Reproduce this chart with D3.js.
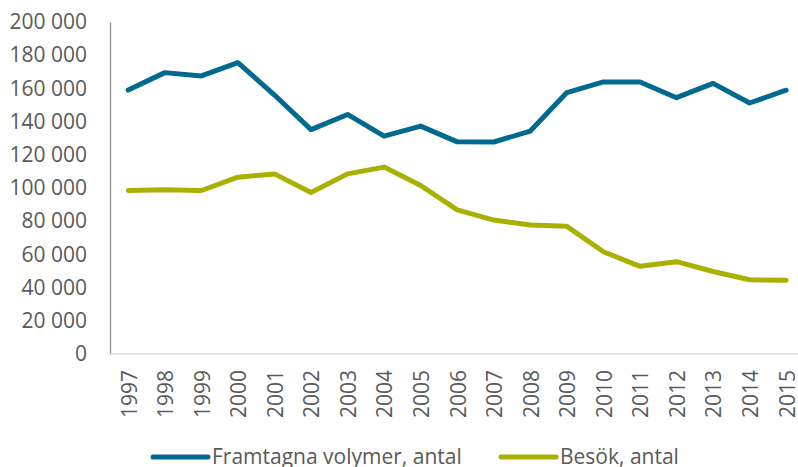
<!DOCTYPE html>
<html lang="sv">
<head>
  <meta charset="UTF-8" />
  <title>Framtagna volymer och besök</title>
  <script src="https://d3js.org/d3.v7.min.js"></script>
  <style>
    body { margin: 0; background: #fff; }
    text { font-family: "Open Sans", sans-serif; fill: #595959; }
  </style>
</head>
<body>
  <div id="chart"></div>
  <script>
    // data
    var years = ['1997','1998','1999','2000','2001','2002','2003','2004','2005','2006',
                 '2007','2008','2009','2010','2011','2012','2013','2014','2015'];
    var volymer = [159000, 169500, 167500, 175500, 156000, 135200, 144300, 131300, 137300, 127800,
                   127700, 134300, 157500, 163900, 163900, 154400, 163000, 151200, 158900];
    var besok = [98500, 98900, 98500, 106500, 108500, 97300, 108500, 112600, 101500, 86800,
                 80700, 77700, 76900, 61600, 52800, 55600, 49700, 44700, 44500];
    var yTicks = [0, 20000, 40000, 60000, 80000, 100000, 120000, 140000, 160000, 180000, 200000];
    var seriesNames = ['Framtagna volymer, antal', 'Besök, antal'];
    var seriesColors = ['#00698f', '#a9b000'];

    var width = 798, height = 467;
    var plotLeft = 110, plotTop = 22, plotBottom = 354;

    var svg = d3.select('#chart').append('svg')
      .attr('width', width)
      .attr('height', height);

    var x = d3.scaleBand().domain(years).range([plotLeft, plotLeft + 19 * 36.55]);
    var y = d3.scaleLinear().domain([0, 200000]).range([plotBottom, plotTop]);
    var fmt = function(d) { return d3.format(',')(d).replace(/,/g, ' '); };

    // y axis
    var yAxis = svg.append('g')
      .attr('transform', 'translate(' + plotLeft + ',0)')
      .call(d3.axisLeft(y).tickValues(yTicks).tickSize(0).tickPadding(23).tickFormat(fmt));
    yAxis.select('.domain').attr('stroke', '#8c8c8c').attr('stroke-width', 1.3);
    yAxis.selectAll('text').attr('font-size', 21).attr('fill', '#595959')
      .style('font-family', '"Open Sans", sans-serif');

    // x axis
    var xAxis = svg.append('g')
      .attr('transform', 'translate(0,' + plotBottom + ')')
      .call(d3.axisBottom(x).tickSize(0).tickSizeOuter(0));
    xAxis.select('.domain').attr('stroke', '#d9d9d9').attr('stroke-width', 1.5)
      .attr('d', 'M' + plotLeft + ',0H' + width);
    xAxis.selectAll('text')
      .attr('font-size', 21)
      .attr('fill', '#595959')
      .style('font-family', '"Open Sans", sans-serif')
      .attr('text-anchor', 'end')
      .attr('transform', 'rotate(-90)')
      .attr('x', -16)
      .attr('y', 1)
      .attr('dy', '0.35em');

    var line = d3.line()
      .x(function(d, i) { return x(years[i]) + x.bandwidth() / 2; })
      .y(function(d) { return y(d); });

    [volymer, besok].forEach(function(s, i) {
      svg.append('path')
        .datum(s)
        .attr('fill', 'none')
        .attr('stroke', seriesColors[i])
        .attr('stroke-width', 5)
        .attr('stroke-linejoin', 'round')
        .attr('stroke-linecap', 'round')
        .attr('d', line);
    });

    // legend
    var legendX = [153, 501];
    seriesNames.forEach(function(name, i) {
      var g = svg.append('g').attr('transform', 'translate(' + legendX[i] + ',457)');
      g.append('line')
        .attr('x1', 0).attr('x2', 55)
        .attr('stroke', seriesColors[i])
        .attr('stroke-width', 5)
        .attr('stroke-linecap', 'round');
      g.append('text')
        .attr('x', 59)
        .attr('dy', '0.35em')
        .attr('font-size', 21)
        .text(name);
    });
  </script>
</body>
</html>
